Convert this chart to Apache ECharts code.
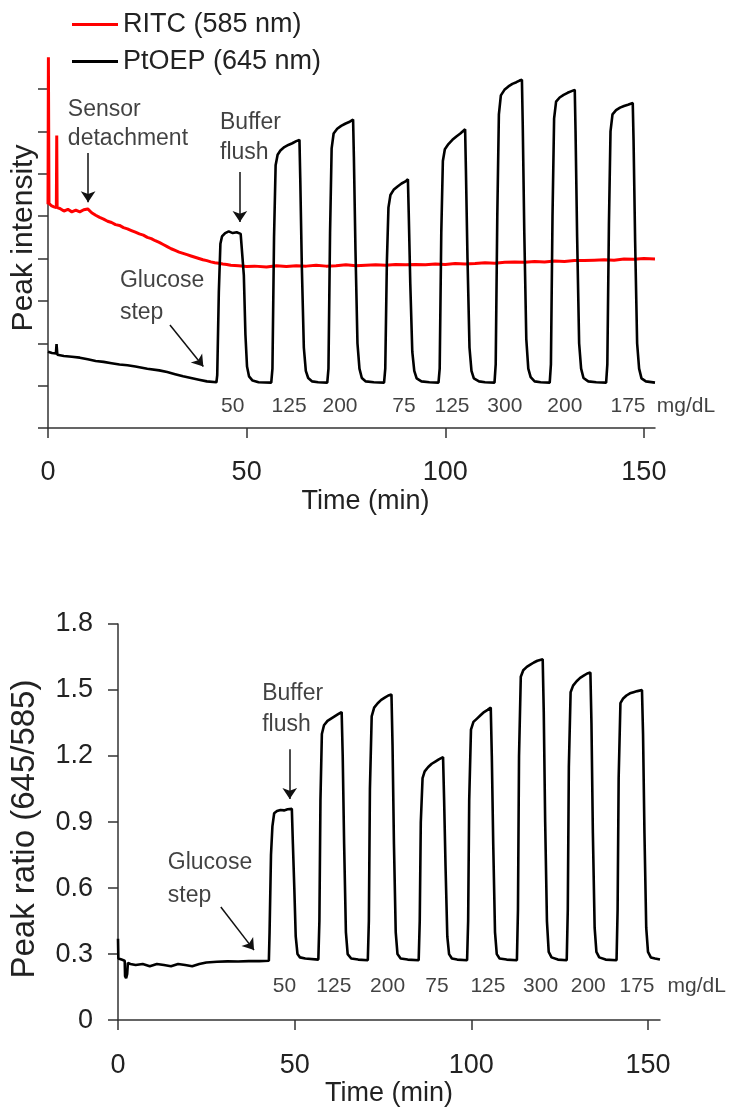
<!DOCTYPE html>
<html><head><meta charset="utf-8">
<script src="https://cdn.jsdelivr.net/npm/echarts@6/dist/echarts.min.js"></script>
<style>html,body{margin:0;padding:0;background:#fff}#c{width:733px;height:1109px}</style>
</head><body><div id="c"></div>
<script>
// ---------- DATA ----------
const xTicks = [0, 50, 100, 150];
const topYTicks = [0, 1, 2, 3, 4, 5, 6, 7, 8];
const ratioTicks = [0, 0.3, 0.6, 0.9, 1.2, 1.5, 1.8];

const seriesNames = ['RITC (585 nm)', 'PtOEP (645 nm)'];

// RITC (585 nm) peak intensity, [time min, arbitrary units]
const ritcPoints = [
  [0,5.28],[0.1,8.75],[0.25,5.3],[0.8,5.25],[1.5,5.22],[2.1,5.2],[2.2,6.9],[2.3,5.2],[3,5.18],[4,5.12],
  [5,5.16],[6,5.1],[7,5.14],[8,5.1],[9,5.15],[10,5.17],[11,5.08],[12,5.02],[13,4.97],[14,4.93],
  [15,4.88],[16,4.85],[17,4.8],[18,4.78],[19,4.73],[20,4.7],[21,4.66],[22,4.62],[23,4.58],[24,4.55],
  [25,4.5],[26,4.47],[27,4.42],[28,4.38],[29,4.33],[30,4.28],[31,4.23],[32,4.19],[33,4.15],[34,4.12],
  [35,4.09],[36,4.06],[37,4.03],[38,4.0],[39,3.97],[40,3.95],[41,3.92],[42,3.9],[43,3.89],[44,3.87],
  [45,3.86],[46,3.84],[48,3.83],[50,3.81],[52,3.82],[55,3.80],[57.5,3.83],[60,3.81],[62.5,3.83],[65,3.82],
  [67.5,3.84],[70,3.82],[72.5,3.83],[75,3.85],[77.5,3.83],[80,3.84],[82.5,3.85],[85,3.84],[87.5,3.86],[90,3.85],
  [92.5,3.86],[95,3.85],[97.5,3.87],[100,3.86],[102.5,3.88],[105,3.87],[107.5,3.88],[110,3.9],[112.5,3.89],[115,3.91],
  [117.5,3.92],[120,3.91],[122.5,3.93],[125,3.92],[127.5,3.94],[130,3.93],[132.5,3.95],[135,3.95],[137.5,3.96],[140,3.97],
  [142.5,3.96],[145,3.99],[147.5,3.98],[150,4.0],[152.8,3.99]
];

// PtOEP (645 nm) peak intensity
const ptoepPoints = [
  [0,1.80],[1.0,1.77],[2.0,1.76],[2.15,1.98],[2.35,1.73],[4,1.70],[6,1.68],[8,1.66],[10,1.62],[12,1.58],
  [14,1.56],[16,1.53],[18,1.50],[20,1.48],[22,1.45],[25,1.40],[28,1.36],[30,1.32],[32,1.27],[34,1.22],
  [36,1.18],[38,1.14],[40,1.10],[42.4,1.08],
  [42.6,1.25],[43.0,3.2],[43.4,4.35],[43.8,4.52],[44.6,4.60],[45.5,4.64],[46.5,4.60],[47.5,4.62],[48.5,4.58],[49.0,4.58],
  [49.3,3.6],[49.7,2.2],[50.1,1.45],[50.6,1.22],[51.5,1.12],[53,1.08],[56.2,1.07],
  [56.5,1.4],[56.9,4.5],[57.3,6.2],[57.8,6.45],[58.5,6.55],[59.5,6.63],[60.5,6.68],[61.5,6.72],[62.5,6.77],[63.3,6.80],
  [63.5,5.9],[63.9,3.8],[64.4,1.9],[64.9,1.35],[65.5,1.18],[66.5,1.10],[68,1.08],[70.3,1.07],
  [70.6,1.4],[71.0,4.6],[71.4,6.6],[71.9,6.95],[72.8,7.06],[73.8,7.13],[74.8,7.18],[75.8,7.22],[76.8,7.28],
  [77.0,6.4],[77.4,4.2],[77.9,2.0],[78.4,1.4],[79.0,1.18],[80,1.10],[82,1.08],[84.6,1.07],
  [84.9,1.4],[85.3,3.9],[85.7,5.2],[86.2,5.5],[87,5.62],[88,5.70],[89,5.77],[90,5.82],[90.6,5.87],
  [90.8,5.1],[91.2,3.4],[91.7,1.8],[92.2,1.35],[92.8,1.17],[94,1.1],[96,1.08],[98.3,1.07],
  [98.6,1.4],[99.0,4.6],[99.4,6.3],[99.9,6.58],[100.8,6.7],[101.8,6.8],[102.8,6.88],[103.8,6.95],[105.0,7.05],
  [105.2,6.1],[105.6,4.0],[106.1,1.9],[106.6,1.35],[107.2,1.17],[108.5,1.1],[110,1.08],[112.4,1.07],
  [112.7,1.5],[113.1,5.0],[113.5,7.4],[114.0,7.85],[114.9,7.98],[115.9,8.06],[116.9,8.12],[117.9,8.16],[118.7,8.2],[119.3,8.22],
  [119.5,7.2],[119.9,4.6],[120.4,2.1],[120.9,1.4],[121.5,1.2],[122.5,1.1],[124,1.08],[126.3,1.07],
  [126.6,1.5],[127.0,5.0],[127.4,7.3],[127.9,7.7],[128.8,7.8],[129.8,7.86],[130.8,7.91],[131.8,7.95],[132.6,7.98],
  [132.8,7.0],[133.2,4.5],[133.7,2.0],[134.2,1.4],[134.8,1.18],[136,1.1],[138,1.08],[140.5,1.07],
  [140.8,1.5],[141.2,4.8],[141.6,7.0],[142.1,7.4],[143,7.5],[144,7.56],[145,7.6],[146,7.63],[147.2,7.67],
  [147.4,6.8],[147.8,4.4],[148.3,2.0],[148.8,1.4],[149.4,1.17],[150.5,1.1],[152.8,1.07]
];

// Peak ratio (645/585)
const ratioPoints = [
  [0,0.37],[0.1,0.28],[1.0,0.275],[1.9,0.27],[2.0,0.2],[2.3,0.19],[2.6,0.21],[2.8,0.26],[3.5,0.255],[5,0.25],
  [7,0.255],[9,0.245],[11,0.255],[13,0.25],[15,0.245],[17,0.255],[19,0.25],[21,0.245],[23,0.255],[25,0.262],
  [28,0.265],[31,0.267],[34,0.266],[37,0.268],[40,0.268],[42.7,0.27],
  [42.9,0.4],[43.3,0.75],[43.7,0.88],[44.2,0.94],[45,0.95],[46,0.955],[47,0.953],[48,0.958],[49.2,0.96],
  [49.5,0.8],[49.9,0.6],[50.3,0.38],[50.8,0.3],[51.5,0.285],[53,0.28],[56.7,0.275],
  [57.0,0.45],[57.3,1.0],[57.7,1.30],[58.3,1.34],[59.3,1.36],[60.3,1.37],[61.3,1.38],[62.3,1.39],[63.3,1.40],
  [63.6,1.2],[64.0,0.8],[64.5,0.4],[65.0,0.3],[66,0.28],[68,0.275],[70.7,0.272],
  [71.0,0.45],[71.3,1.05],[71.8,1.38],[72.5,1.42],[73.5,1.44],[74.5,1.455],[75.5,1.465],[76.5,1.475],[77.4,1.48],
  [77.7,1.25],[78.1,0.8],[78.6,0.4],[79.1,0.3],[80,0.28],[82,0.275],[85.1,0.272],
  [85.4,0.45],[85.7,0.9],[86.2,1.1],[86.8,1.13],[87.8,1.15],[88.8,1.165],[89.8,1.175],[90.8,1.185],[92,1.195],
  [92.3,1.0],[92.7,0.7],[93.2,0.38],[93.7,0.3],[94.5,0.28],[96,0.275],[98.8,0.272],
  [99.1,0.45],[99.4,1.0],[99.9,1.32],[100.6,1.355],[101.6,1.37],[102.6,1.385],[103.6,1.40],[104.6,1.41],[105.5,1.42],
  [105.8,1.2],[106.2,0.8],[106.7,0.4],[107.2,0.3],[108,0.28],[110,0.275],[112.9,0.272],
  [113.2,0.5],[113.5,1.2],[114.0,1.56],[114.7,1.59],[115.7,1.605],[116.7,1.615],[117.7,1.625],[118.7,1.633],[120.2,1.64],
  [120.5,1.4],[120.9,0.9],[121.4,0.45],[121.9,0.31],[122.7,0.285],[124.5,0.275],[127.0,0.272],
  [127.3,0.5],[127.6,1.15],[128.1,1.49],[128.8,1.52],[129.8,1.54],[130.8,1.555],[131.8,1.565],[132.8,1.575],[133.7,1.58],
  [134.0,1.35],[134.4,0.85],[134.9,0.42],[135.4,0.31],[136.2,0.285],[138,0.275],[141.1,0.272],
  [141.4,0.5],[141.7,1.1],[142.2,1.44],[142.9,1.46],[143.9,1.475],[144.9,1.485],[145.9,1.49],[147,1.495],[148.3,1.50],
  [148.6,1.3],[149,0.85],[149.5,0.42],[150,0.31],[150.8,0.285],[152,0.28],[153.4,0.275]
];

// Glucose step concentrations (labels) and where they sit (time)
const concLabels = ['50','125','200','75','125','300','200','175','mg/dL'];
const topConcTimes = [46.5, 60.7, 73.5, 89.6, 101.7, 115.0, 130.1, 146.0, 160.6];
const bottomConcTimes = [47.1, 61.1, 76.3, 90.3, 104.7, 119.6, 133.1, 146.9, 163.8];
const topConcLevel = 0.52;
const bottomConcLevel = 0.154;

// Annotations (text, anchor in data coordinates)
const topNotes = ['Sensor\ndetachment', 'Buffer\nflush', 'Glucose\nstep'];
const topNoteTimes = [5.0, 43.3, 18.1];
const topNoteValues = [7.16, 6.86, 3.11];
const topArrows = [[[10.1, 6.49], [10.1, 5.33]], [[48.3, 6.04], [48.3, 4.86]], [[30.7, 2.43], [39.1, 1.45]]];

const bottomNotes = ['Buffer\nflush', 'Glucose\nstep'];
const bottomNoteTimes = [40.8, 14.1];
const bottomNoteValues = [1.414, 0.64];
const bottomArrows = [[[48.6, 1.231], [48.6, 1.005]], [[29.1, 0.514], [38.5, 0.318]]];

// ---------- CHART ----------
const FONT = "'Liberation Sans', Arial, sans-serif";
const TXT = '#222';
const NOTE = '#111';
const AX = '#333';
const chart = echarts.init(document.getElementById('c'), null, {renderer: 'canvas'});

function axisBase(extra) {
  return Object.assign({
    type: 'value',
    axisLine: {show: true, onZero: false, lineStyle: {color: AX, width: 1.5}},
    splitLine: {show: false},
  }, extra);
}

function noteSeries(xi, names, times, values, lineHeights, arrows) {
  return {
    type: 'scatter', xAxisIndex: xi, yAxisIndex: xi, silent: true, clip: false,
    symbolSize: 1, itemStyle: {color: 'rgba(0,0,0,0)'},
    data: names.map((n, i) => ({
      value: [times[i], values[i]],
      label: {show: true, position: 'inside', align: 'left', verticalAlign: 'middle',
        formatter: n, fontSize: 23, color: NOTE, fontFamily: FONT, lineHeight: lineHeights[i]}
    })),
    markLine: {
      silent: true, animation: false, symbol: ['none', 'arrow'], symbolSize: 11,
      label: {show: false}, emphasis: {disabled: true},
      lineStyle: {color: '#111', width: 1.5, type: 'solid'},
      data: arrows.map(a => [{coord: a[0]}, {coord: a[1]}])
    }
  };
}

function concSeries(xi, times, level) {
  return {
    type: 'scatter', xAxisIndex: xi, yAxisIndex: xi, silent: true, clip: false,
    symbolSize: 1, itemStyle: {color: 'rgba(0,0,0,0)'},
    data: concLabels.map((l, i) => ({value: [times[i], level], name: l})),
    label: {show: true, position: 'inside', formatter: p => p.name, fontSize: 21,
      color: NOTE, fontFamily: FONT}
  };
}

chart.setOption({
  animation: false,
  backgroundColor: '#fff',
  textStyle: {fontFamily: FONT},
  legend: {
    data: seriesNames, orient: 'vertical', left: 67, top: 6,
    itemWidth: 46, itemHeight: 3, itemGap: 10, icon: 'rect', selectedMode: false,
    textStyle: {fontSize: 27, color: TXT, fontFamily: FONT, lineHeight: 27}
  },
  grid: [
    {left: 48, right: 78, top: 89, bottom: 681},
    {left: 115, right: 73, top: 624, bottom: 87}
  ],
  xAxis: [
    axisBase({
      gridIndex: 0, min: 0, max: 152.8,
      axisTick: {show: true, length: 10, customValues: xTicks, lineStyle: {color: AX, width: 1.5}},
      axisLabel: {show: true, customValues: xTicks, margin: 31, fontSize: 27, color: TXT, fontFamily: FONT},
      name: 'Time (min)', nameLocation: 'middle', nameGap: 60,
      nameTextStyle: {fontSize: 27, color: TXT, fontFamily: FONT, lineHeight: 28, padding: [0, 0, 0, 28]}
    }),
    axisBase({
      gridIndex: 1, min: 0, max: 153.4,
      axisTick: {show: true, length: 10, customValues: xTicks, lineStyle: {color: AX, width: 1.5}},
      axisLabel: {show: true, customValues: xTicks, margin: 32, fontSize: 27, color: TXT, fontFamily: FONT},
      name: 'Time (min)', nameLocation: 'middle', nameGap: 59,
      nameTextStyle: {fontSize: 27, color: TXT, fontFamily: FONT, lineHeight: 28}
    })
  ],
  yAxis: [
    axisBase({
      gridIndex: 0, min: 0, max: 8, interval: 1,
      axisTick: {show: true, length: 10, customValues: topYTicks, lineStyle: {color: AX, width: 1.5}},
      axisLabel: {show: false},
      name: 'Peak intensity', nameLocation: 'middle', nameGap: 8,
      nameTextStyle: {fontSize: 30, color: TXT, fontFamily: FONT, lineHeight: 32, padding: [0, 0, 0, 41]}
    }),
    axisBase({
      gridIndex: 1, min: 0, max: 1.8, interval: 0.3,
      axisTick: {show: true, length: 10, customValues: ratioTicks, lineStyle: {color: AX, width: 1.5}},
      axisLabel: {show: true, customValues: ratioTicks, margin: 25, fontSize: 27, color: TXT, fontFamily: FONT,
        formatter: v => String(Math.round(v * 10) / 10)},
      name: 'Peak ratio (645/585)', nameLocation: 'middle', nameGap: 76,
      nameTextStyle: {fontSize: 33, color: TXT, fontFamily: FONT, lineHeight: 34, padding: [0, 14, 0, 0]}
    })
  ],
  series: [
    {type: 'line', name: seriesNames[0], xAxisIndex: 0, yAxisIndex: 0, data: ritcPoints,
      showSymbol: false, symbol: 'none', clip: false, silent: true, z: 2,
      lineStyle: {color: '#ff0000', width: 3}, itemStyle: {color: '#ff0000'}},
    {type: 'line', name: seriesNames[1], xAxisIndex: 0, yAxisIndex: 0, data: ptoepPoints,
      showSymbol: false, symbol: 'none', clip: false, silent: true, z: 3,
      lineStyle: {color: '#000', width: 2.6}, itemStyle: {color: '#000'}},
    {type: 'line', name: 'Peak ratio', xAxisIndex: 1, yAxisIndex: 1, data: ratioPoints,
      showSymbol: false, symbol: 'none', clip: false, silent: true, z: 3,
      lineStyle: {color: '#000', width: 2.6}, itemStyle: {color: '#000'}},
    noteSeries(0, topNotes, topNoteTimes, topNoteValues, [29, 30, 32], topArrows),
    noteSeries(1, bottomNotes, bottomNoteTimes, bottomNoteValues, [31, 33], bottomArrows),
    concSeries(0, topConcTimes, topConcLevel),
    concSeries(1, bottomConcTimes, bottomConcLevel)
  ]
});
</script></body></html>
